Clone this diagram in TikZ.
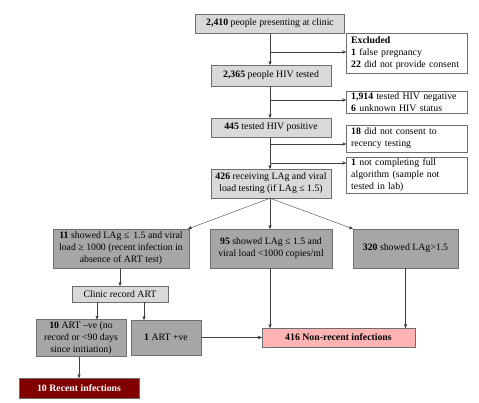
\documentclass[tikz,border=0pt]{standalone}
\usepackage{fontspec}
\setmainfont{Liberation Serif}
\usetikzlibrary{arrows, positioning, calc}

\definecolor{lightfill}{HTML}{D9D9D9}
\definecolor{darkfill}{HTML}{A6A6A6}
\definecolor{pinkfill}{HTML}{FFB3B3}
\definecolor{redfill}{HTML}{800000}
\definecolor{edgegray}{HTML}{6E6E6E}

\begin{document}
\begin{tikzpicture}[
  x=1pt, y=-1pt,
  font=\fontsize{9.8}{12}\selectfont,
  box/.style={draw=edgegray,inner sep=2pt,align=center},
  lightbox/.style={box,fill=lightfill},
  darkbox/.style={box,fill=darkfill},
  sidebox/.style={box,fill=white,align=left,inner xsep=5pt,inner ysep=1.5pt,anchor=west},
  pinkbox/.style={box,fill=pinkfill,font=\fontsize{9.8}{12}\selectfont\bfseries},
  redbox/.style={box,fill=redfill,text=white,font=\fontsize{9.8}{12}\selectfont\bfseries},
  link/.style={->,>=stealth',draw=black!75,thin},
  every node/.style={align=center}]

  \useasboundingbox (0,0) rectangle (479,402);

  % Hauptspalte
  \node[lightbox,minimum width=149,minimum height=19] (clinic) at (270,23.5)
      {\textbf{2,410} people presenting at clinic};
  \node[lightbox,minimum width=120,minimum height=21] (tested) at (271,75.5)
      {\textbf{2,365} people HIV tested};
  \node[lightbox,minimum width=120,minimum height=19] (positive) at (271,127.5)
      {\textbf{445} tested HIV positive};
  \node[lightbox,minimum width=120,minimum height=29] (lagtest) at (271,183.5)
      {\textbf{426} receiving LAg and viral\\load testing (if LAg ≤ 1.5)};

  % Ausschluesse rechts
  \node[sidebox,text width=111,minimum height=40] (excluded) at (346,53)
      {\textbf{Excluded}\\\textbf{1} false pregnancy\\\textbf{22} did not provide consent};
  \node[sidebox,text width=111,minimum height=22] (negative) at (346,102)
      {\textbf{1,914} tested HIV negative\\\textbf{6} unknown HIV status};
  \node[sidebox,text width=111,minimum height=27] (noconsent) at (346,138.5)
      {\textbf{18} did not consent to\\recency testing};
  \node[sidebox,text width=111,minimum height=36] (incomplete) at (346,175)
      {\textbf{1} not completing full\\algorithm (sample not\\tested in lab)};

  % Ergebnisse
  \node[darkbox,minimum width=136,minimum height=39] (recent) at (121,248.5)
      {\textbf{11} showed LAg ≤\, 1.5 and viral\\load ≥ 1000 (recent infection in\\absence of ART test)};
  \node[darkbox,minimum width=122,minimum height=39] (lowvl) at (271,248.5)
      {\textbf{95} showed LAg ≤ 1.5 and\\viral load <1000 copies/ml};
  \node[darkbox,minimum width=105,minimum height=39] (highlag) at (405.5,248.5)
      {\textbf{320} showed LAg>1.5};

  % ART
  \node[lightbox,minimum width=96,minimum height=16] (artrecord) at (120,294)
      {Clinic record ART};
  \node[darkbox,minimum width=90,minimum height=36] (artneg) at (81,338)
      {\textbf{10} ART –ve (no\\record or <90 days\\since initiation)};
  \node[darkbox,minimum width=70,minimum height=35] (artpos) at (166,337.5)
      {\textbf{1} ART +ve};
  \node[pinkbox,minimum width=153,minimum height=19] (nonrecent) at (338.5,337.5)
      {416 Non-recent infections};
  \node[redbox,minimum width=120,minimum height=20] (recentinf) at (79,388)
      {10 Recent infections};

  % Verbindungen Hauptspalte
  \coordinate (j1) at (270,52);
  \coordinate (j2) at (270,100);
  \coordinate (j3) at (270,144);
  \coordinate (j4) at (270,163);
  \draw[link] (clinic.south) -- (clinic.south |- tested.north);
  \draw[link] (tested.south -| clinic.south) -- (clinic.south |- positive.north);
  \draw[link] (positive.south -| clinic.south) -- (clinic.south |- lagtest.north);
  \draw[link] (j1) -- (j1 -| excluded.west);
  \draw[link] (j2) -- (j2 -| negative.west);
  \draw[link] (j3) -- (j3 -| noconsent.west);
  \draw[link] (j4) -- (j4 -| incomplete.west);

  % Aufteilung
  \draw[link] (lagtest.south -| clinic.south) -- ([xshift=-1pt]recent.north east);
  \draw[link] (lagtest.south -| clinic.south) -- (lowvl.north -| clinic.south);
  \draw[link] (lagtest.south -| clinic.south) -- (highlag.north west);

  % ART-Zweig
  \draw[link] ([xshift=-1pt]recent.south) -- ([xshift=-1pt]recent.south |- artrecord.north);
  \draw[link] ([xshift=-23pt]artrecord.south) -- ([xshift=-23pt]artrecord.south |- artneg.north);
  \draw[link] ([xshift=24pt]artrecord.south) -- ([xshift=24pt]artrecord.south |- artpos.north);
  \draw[link] ([xshift=-2pt]artneg.south) -- ([xshift=-2pt]artneg.south |- recentinf.north);
  \draw[link] (artpos.east) -- (artpos.east -| nonrecent.west);
  \draw[link] (lowvl.south -| clinic.south) -- (clinic.south |- nonrecent.north);
  \draw[link] (highlag.south) -- (highlag.south |- nonrecent.north);

\end{tikzpicture}
\end{document}
